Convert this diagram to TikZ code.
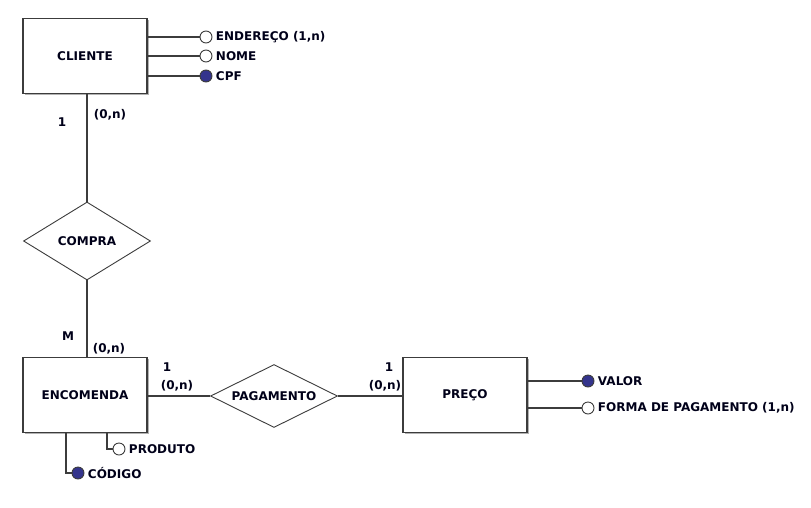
\documentclass[tikz,border=0pt]{standalone}
\usepackage{fontspec}
\setmainfont{DejaVu Sans}
\usetikzlibrary{shapes.geometric,shadows}
\definecolor{keyblue}{RGB}{52,52,140}
\definecolor{linegray}{RGB}{60,60,60}
\begin{document}
\begin{tikzpicture}[x=1pt,y=-1pt]
      \tikzstyle{every node}=[font=\bfseries\fontsize{12}{14}\selectfont,text=black!90!blue]
      \tikzstyle{entity}=[draw=linegray,line width=1.2pt,fill=white,minimum width=124pt,minimum height=75pt,
                            drop shadow={shadow xshift=1.5pt,shadow yshift=-1.5pt,fill=gray!60,opacity=1}]
      \tikzstyle{relation}=[draw=linegray,line width=0.9pt,fill=white,diamond,aspect=2,inner sep=0pt,
                            minimum width=127pt]
      \tikzstyle{attr}=[draw=linegray,line width=0.9pt,circle,fill=white,minimum size=12pt,inner sep=0pt,
                            label distance=-1pt]
      \tikzstyle{keyattr}=[attr,fill=keyblue]
      \tikzstyle{conn}=[draw=linegray,line width=1.2pt]
      \useasboundingbox (0,0) rectangle (811,507);

      \node (cliente) [entity] at (85,56) {CLIENTE};
      \node (compra) [relation,minimum height=78pt] at (87,241) {COMPRA};
      \node (encomenda) [entity] at (85,395) {ENCOMENDA};
      \node (pagamento) [relation,minimum height=63pt] at (274,396) {PAGAMENTO};
      \node (preco) [entity] at (465,395) {PREÇO};

      \node (endereco) [attr,label=right:{ENDEREÇO (1,n)}] at (206,37) {};
      \node (nome) [attr,label=right:NOME] at (206,56) {};
      \node (cpf) [keyattr,label=right:CPF] at (206,76) {};
      \node (valor) [keyattr,label=right:VALOR] at (588,381) {};
      \node (forma) [attr,label=right:{FORMA DE PAGAMENTO (1,n)}] at (588,408) {};
      \node (produto) [attr,label=right:PRODUTO] at (119,449) {};
      \node (codigo) [keyattr,label=right:CÓDIGO] at (78,473) {};

      \draw[conn] (cliente.east |- endereco) -- (endereco);
      \draw[conn] (cliente.east |- nome) -- (nome);
      \draw[conn] (cliente.east |- cpf) -- (cpf);
      \draw[conn] (preco.east |- valor) -- (valor);
      \draw[conn] (preco.east |- forma) -- (forma);
      \draw[conn] (produto) -| ([xshift=22pt]encomenda.south);
      \draw[conn] (codigo) -| ([xshift=-19pt]encomenda.south);

      \draw[conn] (cliente.south -| compra) -- (compra.north);
      \draw[conn] (compra.south) -- (encomenda.north -| compra);
      \draw[conn] (encomenda.east |- pagamento) -- (pagamento.west);
      \draw[conn] (pagamento.east) -- (preco.west |- pagamento);

      % cardinalidades
      \node (c1) at (62,122) {1};
      \node (c2) at (110,115) {(0,n)};
      \node (c3) at (68,336) {M};
      \node (c4) at (109,349) {(0,n)};
      \node (c5) at (167,367) {1};
      \node (c6) at (177,386) {(0,n)};
      \node (c7) at (389,367) {1};
      \node (c8) at (385,386) {(0,n)};
\end{tikzpicture}
\end{document}
